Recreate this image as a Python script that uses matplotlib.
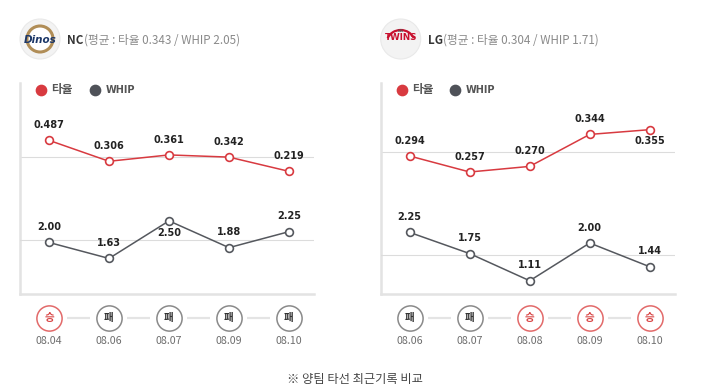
import matplotlib
matplotlib.use('Agg')
import matplotlib.pyplot as plt
from matplotlib.patches import Circle, Arc

plt.rcParams['font.family'] = ['Noto Sans CJK KR', 'DejaVu Sans']

# ---------------- data ----------------
nc_name = 'NC'
nc_mean_avg = 0.343
nc_mean_whip = 2.05
nc_dates = ['08.04', '08.06', '08.07', '08.09', '08.10']
nc_avg = [0.487, 0.306, 0.361, 0.342, 0.219]
nc_whip = [2.00, 1.63, 2.50, 1.88, 2.25]
nc_results = ['승', '패', '패', '패', '패']

lg_name = 'LG'
lg_mean_avg = 0.304
lg_mean_whip = 1.71
lg_dates = ['08.06', '08.07', '08.08', '08.09', '08.10']
lg_avg = [0.294, 0.257, 0.270, 0.344, 0.355]
lg_whip = [2.25, 1.75, 1.11, 2.00, 1.44]
lg_results = ['패', '패', '승', '승', '승']

legend_labels = ['타율', 'WHIP']
footer_text = '※ 양팀 타선 최근기록 비교'

# label placement (style)
nc_avg_pos = ['up', 'up', 'up', 'up', 'up']
nc_whip_pos = ['up', 'up', 'down', 'up', 'up']
lg_avg_pos = ['up', 'up', 'up', 'up', 'down']
lg_whip_pos = ['up', 'up', 'up', 'up', 'up']

# ---------------- style ----------------
W, H = 705, 391
RED = '#d83a40'
GRAY = '#55585e'
GRID = '#dcdcdc'
SPINE = '#e3e3e3'
NUMFONT = 'DejaVu Sans'

fig = plt.figure(figsize=(W / 100, H / 100), dpi=100)
fig.patch.set_facecolor('white')


def fbox(l, t, r, b):
    return [l / W, 1 - b / H, (r - l) / W, (b - t) / H]


ov = fig.add_axes([0, 0, 1, 1])
ov.set_xlim(0, W)
ov.set_ylim(H, 0)
ov.axis('off')

TOP, BOT = 83, 294
PW = 294          # panel width in px
FIRST = 29        # first point offset from left spine (px)
STEP = 60         # px between points


def ylim_from(ref_val, ref_px, scale):
    lo = ref_val - (BOT - ref_px) / scale
    hi = ref_val + (ref_px - TOP) / scale
    return lo, hi


def labels(ax, xs, ys, fmt, pos):
    for x, y, p in zip(xs, ys, pos):
        off = 11 if p == 'up' else -8.5
        ax.annotate(fmt.format(y), (x, y), xytext=(0, off), textcoords='offset points',
                    ha='center', va='center', fontsize=7, fontweight='bold',
                    color='#222222', family=NUMFONT, annotation_clip=False, zorder=6)


def panel(x0, name, mean_avg, mean_whip, avg, whip, dates, results,
          avg_pos, whip_pos, avg_ref, whip_ref, logo):
    xl = (-FIRST / STEP, (PW - FIRST) / STEP)
    xs = list(range(len(avg)))

    ax = fig.add_axes(fbox(x0, TOP, x0 + PW, BOT))
    ax.set_xlim(*xl)
    ax.set_ylim(*ylim_from(mean_avg, *avg_ref))
    ax.patch.set_alpha(0)
    for s in ['top', 'right']:
        ax.spines[s].set_visible(False)
    for s in ['left', 'bottom']:
        ax.spines[s].set_color(SPINE)
        ax.spines[s].set_linewidth(1.8)
    ax.set_xticks([])
    ax.set_yticks([])
    ax.axhline(mean_avg, color=GRID, lw=0.8, zorder=0)
    ax.plot(xs, avg, color=RED, lw=1.1, marker='o', ms=5.6, mfc='white', mec=RED,
            mew=1.2, zorder=5, clip_on=False)
    labels(ax, xs, avg, '{:.3f}', avg_pos)

    ax2 = ax.twinx()
    ax2.set_xlim(*xl)
    ax2.set_ylim(*ylim_from(mean_whip, *whip_ref))
    for s in ax2.spines.values():
        s.set_visible(False)
    ax2.set_yticks([])
    ax2.axhline(mean_whip, color=GRID, lw=0.8, zorder=0)
    ax2.plot(xs, whip, color=GRAY, lw=1.1, marker='o', ms=5.6, mfc='white', mec=GRAY,
             mew=1.2, zorder=5, clip_on=False)
    labels(ax2, xs, whip, '{:.2f}', whip_pos)

    # results row
    rax = fig.add_axes(fbox(x0, 300, x0 + PW, 352))
    rax.set_xlim(*xl)
    rax.set_ylim(352, 300)
    rax.axis('off')
    for i in range(len(xs) - 1):
        rax.plot([xs[i] + 0.30, xs[i + 1] - 0.32], [317.7, 317.7], color='#e4e4e4',
                 lw=1.6, solid_capstyle='butt')
    for x, r, d in zip(xs, results, dates):
        win = r == '승'
        rax.scatter([x], [317.7], s=330, facecolor='white',
                    edgecolor='#e26a6a' if win else '#8a8a8a', linewidth=1.1, zorder=3)
        rax.text(x, 317.7, r, ha='center', va='center', fontsize=7.6, fontweight='bold',
                 color='#d84545' if win else '#333333', zorder=4)
        rax.text(x, 340.7, d, ha='center', va='center', fontsize=7.7, color='#6e6e6e')

    # header with logo
    cx, cy = x0 + 20, 39
    ov.add_patch(Circle((cx, cy), 20, fc='#f3f3f3', ec='#e9e9e9', lw=0.8))
    if logo == 'NC':
        ov.add_patch(Circle((cx, cy), 13, fc='white', ec='#b08d57', lw=2.2))
        ov.text(cx, cy + 1, 'Dinos', ha='center', va='center', fontsize=7.5,
                fontweight='bold', style='italic', color='#1c3768', family=NUMFONT)
    else:
        ov.add_patch(Arc((cx, cy + 4), 28, 26, theta1=200, theta2=340, color='#c8102e', lw=1.6))
        ov.text(cx, cy - 1, 'TWINS', ha='center', va='center', fontsize=6.3,
                fontweight='bold', color='#c8102e', family=NUMFONT)
        ov.text(cx, cy - 8, 'LG', ha='center', va='center', fontsize=3,
                fontweight='bold', color='#555555', family=NUMFONT)
    t = ov.text(x0 + 47.5, 40, name, ha='left', va='center', fontsize=8.4,
                fontweight='bold', color='#333333')
    ov.annotate('(평균 : 타율 {:.3f} / WHIP {:.2f})'.format(mean_avg, mean_whip),
                xy=(1, 0.5), xycoords=t, ha='left', va='center', fontsize=8.4,
                color='#8a8a8a')

    # legend
    ov.scatter([x0 + 21], [90], s=55, color=RED, zorder=3)
    ov.text(x0 + 31.5, 90, legend_labels[0], ha='left', va='center', fontsize=8.4,
            fontweight='bold', color='#555555')
    ov.scatter([x0 + 74.5], [90], s=55, color='#4f5259', zorder=3)
    ov.text(x0 + 85.5, 90, legend_labels[1], ha='left', va='center', fontsize=7,
            fontweight='bold', color='#555555', family=NUMFONT)


panel(20, nc_name, nc_mean_avg, nc_mean_whip, nc_avg, nc_whip, nc_dates, nc_results,
      nc_avg_pos, nc_whip_pos, (157, 115.7), (240.3, 43.2), 'NC')
panel(380.7, lg_name, lg_mean_avg, lg_mean_whip, lg_avg, lg_whip, lg_dates, lg_results,
      lg_avg_pos, lg_whip_pos, (151.7, 432.0), (255.3, 42.4), 'LG')

ov.text(355, 380, footer_text, ha='center', va='center', fontsize=8.8, color='#444444')

fig.savefig('out.png', dpi=100, facecolor='white')
